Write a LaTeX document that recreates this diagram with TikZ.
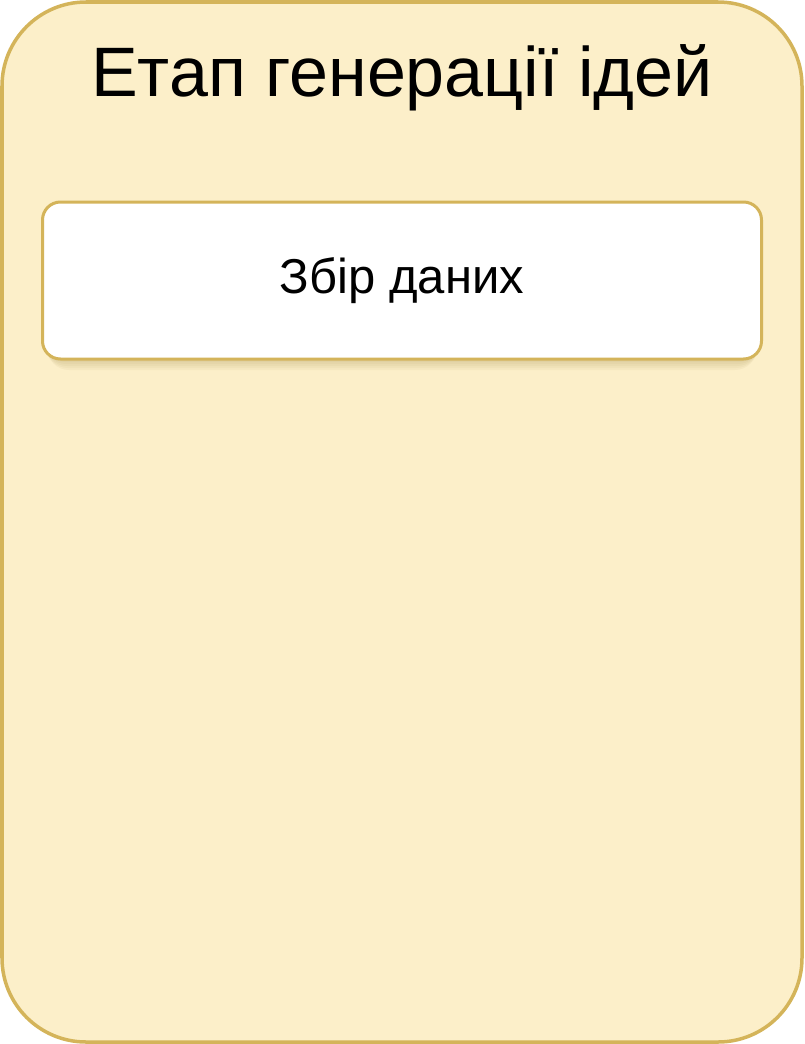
\documentclass[tikz,border=0pt]{standalone}
\usepackage{fontspec}
\setmainfont{Liberation Sans}
\definecolor{outerfill}{HTML}{FCEFC9}
\definecolor{gold}{HTML}{D4B45A}
\definecolor{shade}{HTML}{9A8340}
\tikzset{
  stage/.style={draw=gold, line width=3.5pt, fill=outerfill, rounded corners=84pt},
  task/.style={draw=gold, line width=3pt, fill=white, rounded corners=18pt,
    minimum width=719pt, minimum height=157pt, inner sep=0pt},
  shadowlayer/.style={fill=shade, fill opacity=0.06, draw=none, rounded corners=22pt},
}
\begin{document}
\begin{tikzpicture}[x=1pt,y=-1pt]
\useasboundingbox (0,0) rectangle (804,1044);
\draw[stage] (2,2) rectangle (802,1042);
\node[font=\fontsize{70}{74}\selectfont, anchor=base] (title) at (402,96) {Етап генерації ідей};
\foreach \d in {2,4,6,8,10,12,14} {
  \fill[shadowlayer] (40+\d*0.5,204+\d*0.5) rectangle (764-\d*0.5,356+\d);
}
\node[task, font=\fontsize{49}{54}\selectfont] (box) at (402,280.5) {Збір даних};
\end{tikzpicture}
\end{document}
